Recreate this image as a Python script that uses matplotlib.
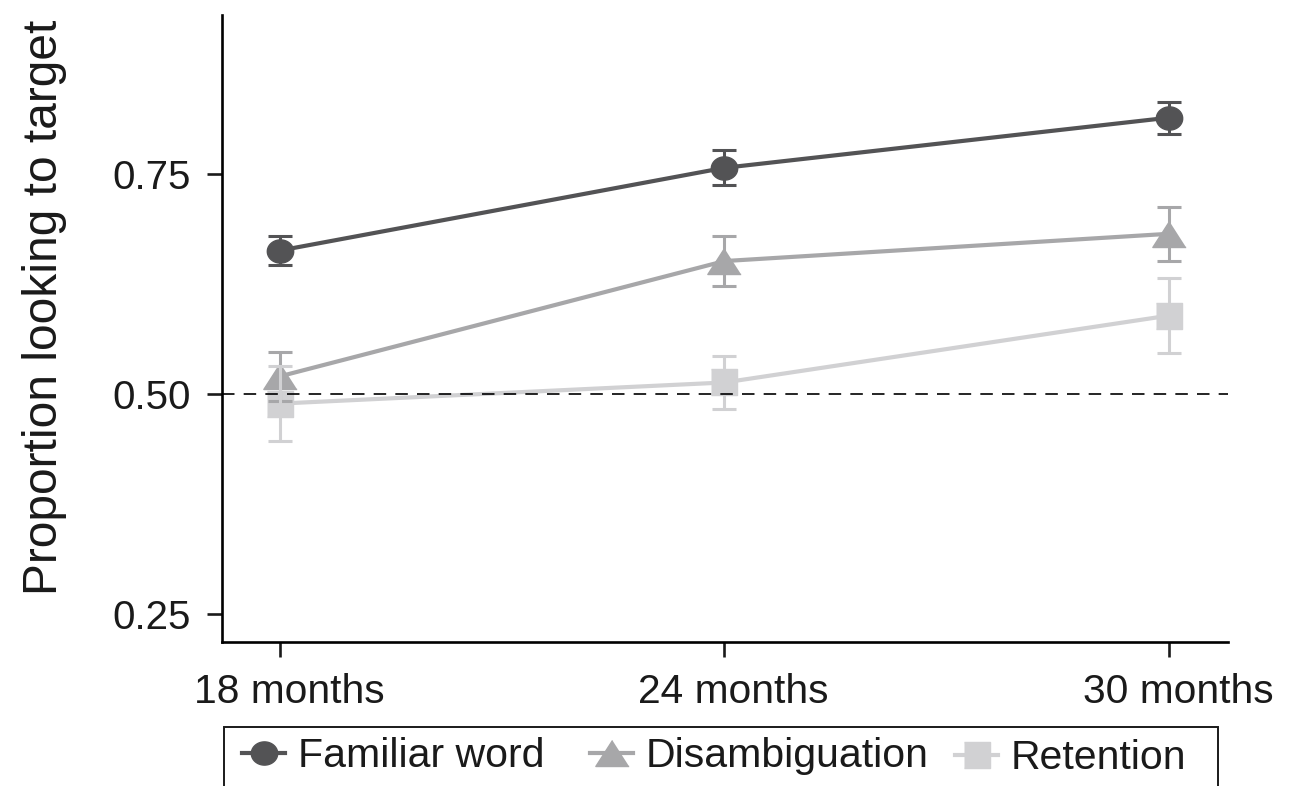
import matplotlib
matplotlib.use("Agg")
import matplotlib.pyplot as plt
import matplotlib.transforms as mtransforms
import numpy as np
from matplotlib.patches import Rectangle
from matplotlib.lines import Line2D

plt.rcParams['font.family'] = ['Liberation Sans', 'DejaVu Sans']

ages = ["18 months", "24 months", "30 months"]
series_names = ["Familiar word", "Disambiguation", "Retention"]
familiar = [0.663, 0.757, 0.814]
familiar_err = [0.017, 0.020, 0.018]
disamb = [0.520, 0.651, 0.682]
disamb_err = [0.028, 0.028, 0.031]
retention = [0.489, 0.513, 0.589]
retention_err = [0.043, 0.030, 0.043]
yticks = [0.25, 0.50, 0.75]
ytick_labels = ["0.25", "0.50", "0.75"]
chance = 0.5

colors = ["#535355", "#a7a7a9", "#d1d1d3"]
_t = np.linspace(0, 2 * np.pi, 60)
ellipse = list(zip(np.cos(_t), 0.88 * np.sin(_t)))
tri = [(0, 0.78), (-1, -0.78), (1, -0.78)]
sq = [(-1, -0.95), (1, -0.95), (1, 0.95), (-1, 0.95)]
markers = [ellipse, tri, sq]
msizes = [19, 24, 19]

W, H = 1304, 786
fig = plt.figure(figsize=(W / 100, H / 100), dpi=100)
ax = fig.add_axes([222 / W, 1 - 642 / H, (1228 - 222) / W, (642 - 15) / H])

x = list(range(len(ages)))
data = [(familiar, familiar_err), (disamb, disamb_err), (retention, retention_err)]

for (vals, errs), c, m, ms in zip(data, colors, markers, msizes):
    ax.plot(x, vals, color=c, lw=3.0, marker=m, markersize=ms, zorder=2,
            solid_capstyle='butt')
for (vals, errs), c in zip(data, colors):
    ax.errorbar(x, vals, yerr=errs, fmt='none', ecolor=c, elinewidth=2.2,
                capsize=8.3, capthick=2.2, zorder=3)

ax.axhline(chance, color='black', lw=1.2, linestyle=(0, (7.5, 5.5)), zorder=4)

ax.set_xlim(-0.1305, 2.133)
ax.set_ylim(0.218, 0.9307)
ax.set_xticks(x)
ax.set_xticklabels(ages)
ax.set_yticks(yticks)
ax.set_yticklabels(ytick_labels)
for s in ['top', 'right']:
    ax.spines[s].set_visible(False)
for s in ['left', 'bottom']:
    ax.spines[s].set_linewidth(1.9)
ax.tick_params(axis='both', direction='out', length=10.5, width=1.9,
               color='#1a1a1a', labelcolor='#1a1a1a')
ax.tick_params(axis='y', pad=12, labelsize=29)
ax.tick_params(axis='x', pad=12, labelsize=29.3)
shift = mtransforms.ScaledTranslation(9 / 100, 0, fig.dpi_scale_trans)
for lbl in ax.get_xticklabels():
    lbl.set_transform(lbl.get_transform() + shift)

fig.text(45 / W, 1 - 307 / H, "Proportion looking to target", rotation=90,
         ha='center', va='center', fontsize=34.5, color='#1a1a1a')

# legend frame (extends past the bottom edge)
fig.patches.append(Rectangle((224 / W, -0.05), (1218 - 224) / W, (1 - 727 / H) + 0.05,
                             transform=fig.transFigure, fill=False, edgecolor='#1a1a1a',
                             lw=1.4))
leg_fs = 29.5
fs_px = leg_fs * 100 / 72
handle_x = [242, 590, 955]
text_y = [756, 756, 758]
for c, m, ms, name, hx, ty in zip(colors, markers, msizes, series_names, handle_x, text_y):
    h = Line2D([], [], color=c, lw=3.0, marker=m, markersize=ms)
    lg = fig.legend([h], [name], loc='center left', bbox_to_anchor=(hx / W, 1 - ty / H),
                    frameon=False, fontsize=leg_fs, handlelength=43 / fs_px,
                    handletextpad=13 / fs_px, borderpad=0, borderaxespad=0)
    for t in lg.get_texts():
        t.set_color('#1a1a1a')

fig.savefig("out.png", dpi=100)
